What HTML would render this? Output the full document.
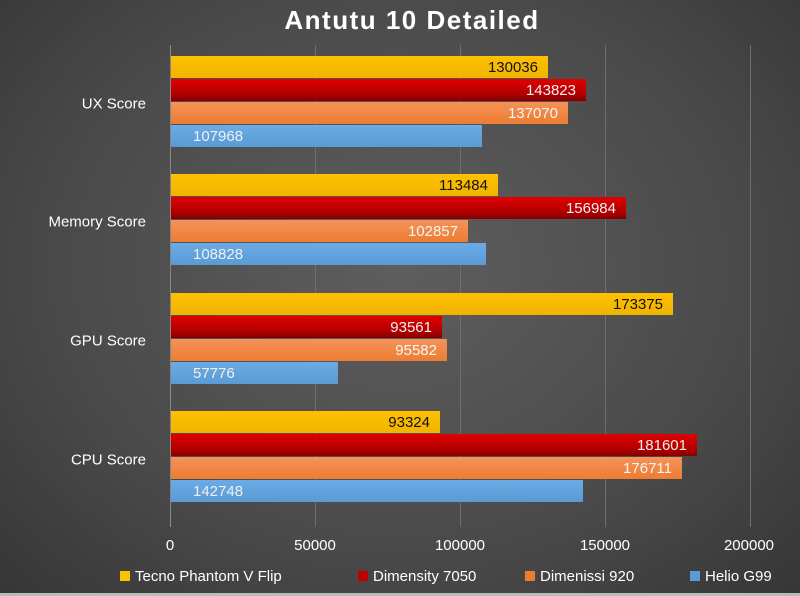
<!DOCTYPE html>
<html><head><style>
body{margin:0}
#c{position:relative;width:800px;height:596px;overflow:hidden;font-family:"Liberation Sans",sans-serif;
background:radial-gradient(ellipse at 50% 45%,#5e5e5e 0%,#4a4a4a 60%,#363636 100%)}
.t{position:absolute;top:5px;left:0;width:824px;text-align:center;color:#fff;font-weight:bold;font-size:26px;letter-spacing:1.5px}
.g{position:absolute;top:45px;width:1px;height:482px;background:#6e6e6e}
.b{position:absolute;height:22px;box-sizing:border-box;font-size:15px;line-height:24px;text-align:right;padding-right:10px}
.y{background:linear-gradient(#ffc000,#f0b400);color:#111}
.r{background:linear-gradient(#e00000,#b00000 70%,#800000);color:#f0f0f0}
.o{background:linear-gradient(#f4935a,#ed7d31);color:#f5f5f5}
.l{background:linear-gradient(#6aaae6,#5b9bd5);color:#f0f0f0;text-align:left;padding-left:22px}
.cat{position:absolute;right:654px;color:#fff;font-size:15px;transform:translateY(-50%)}
.tk{position:absolute;top:537px;color:#fff;font-size:15px;transform:translateX(-50%)}
.lg{position:absolute;top:568px;color:#fff;font-size:15px}
.lg i{display:inline-block;width:10px;height:10px;margin-right:5px;vertical-align:0}
</style></head><body><div id="c">
<div class="t">Antutu 10 Detailed</div>
<div class="g" style="left:170px;background:#888"></div>
<div class="g" style="left:315px"></div>
<div class="g" style="left:460px"></div>
<div class="g" style="left:605px"></div>
<div class="g" style="left:750px"></div>

<div class="b y" style="left:171px;top:56px;width:377px">130036</div>
<div class="b r" style="left:171px;top:79px;width:415px">143823</div>
<div class="b o" style="left:171px;top:102px;width:397px">137070</div>
<div class="b l" style="left:171px;top:125px;width:311px">107968</div>

<div class="b y" style="left:171px;top:174px;width:327px">113484</div>
<div class="b r" style="left:171px;top:197px;width:455px">156984</div>
<div class="b o" style="left:171px;top:220px;width:297px">102857</div>
<div class="b l" style="left:171px;top:243px;width:315px">108828</div>

<div class="b y" style="left:171px;top:293px;width:502px">173375</div>
<div class="b r" style="left:171px;top:316px;width:271px">93561</div>
<div class="b o" style="left:171px;top:339px;width:276px">95582</div>
<div class="b l" style="left:171px;top:362px;width:167px">57776</div>

<div class="b y" style="left:171px;top:411px;width:269px">93324</div>
<div class="b r" style="left:171px;top:434px;width:526px">181601</div>
<div class="b o" style="left:171px;top:457px;width:511px">176711</div>
<div class="b l" style="left:171px;top:480px;width:412px">142748</div>

<div class="cat" style="top:104px">UX Score</div>
<div class="cat" style="top:222px">Memory Score</div>
<div class="cat" style="top:341px">GPU Score</div>
<div class="cat" style="top:460px">CPU Score</div>

<div class="tk" style="left:170px">0</div>
<div class="tk" style="left:315px">50000</div>
<div class="tk" style="left:460px">100000</div>
<div class="tk" style="left:605px">150000</div>
<div class="tk" style="left:749px">200000</div>

<div class="lg" style="left:120px"><i style="background:#ffc000"></i>Tecno Phantom V Flip</div>
<div class="lg" style="left:358px"><i style="background:#c00000"></i>Dimensity 7050</div>
<div class="lg" style="left:525px"><i style="background:#ed7d31"></i>Dimenissi 920</div>
<div class="lg" style="left:690px"><i style="background:#5b9bd5"></i>Helio G99</div>
<div style="position:absolute;left:0;top:593px;width:800px;height:3px;background:#bbb"></div>
</div></body></html>
